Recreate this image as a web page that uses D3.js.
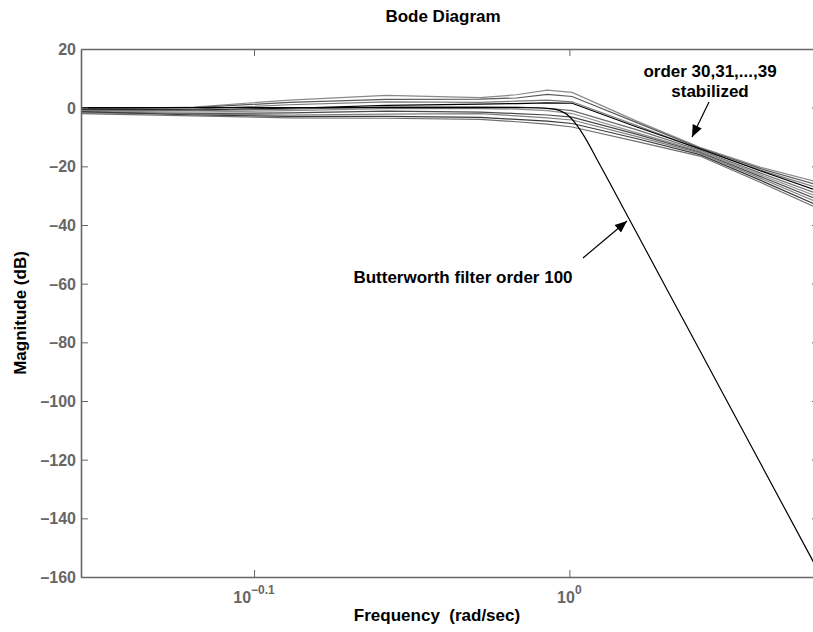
<!DOCTYPE html>
<html>
<head>
<meta charset="utf-8">
<script src="https://cdn.jsdelivr.net/npm/d3@7"></script>
<style>
  html, body { margin: 0; padding: 0; background: #fff; }
  svg { display: block; font-family: "Liberation Sans", Arial, sans-serif; }
  .tick-label { fill: #666; font-weight: bold; font-size: 16px; }
  .lbl { fill: #000; font-weight: bold; font-size: 17px; }
</style>
</head>
<body>
<div id="chart"></div>
<script>
// --- Data ---
const freqs = [0.7, 0.76, 0.815, 0.875, 0.937, 0.962, 0.984, 1.002, 1.05, 1.1, 1.15, 1.2];

const mag30 = [-0.5, 0.2, 2.6, 4.2, 3.4, 4.4, 6.0, 5.2, -4.5, -13.5, -20.3, -25.5];
const mag31 = [-0.3, 0.0, 1.8, 2.8, 2.9, 3.3, 4.5, 3.8, -5.0, -13.8, -20.8, -26.5];
const mag32 = [-1.0, -0.5, 1.0, 2.0, 1.8, 2.2, 2.6, 2.0, -6.0, -14.2, -21.3, -27.5];
const mag33 = [-0.6, -0.8, -0.2, 0.8, 1.2, 1.4, 1.6, 1.5, -6.5, -14.0, -21.6, -28.5];
const mag34 = [-0.8, -1.0, -0.5, 0.3, 0.3, 0.2, -0.2, -1.0, -7.5, -14.5, -22.3, -29.5];
const mag35 = [-1.2, -1.5, -1.0, -0.3, -0.3, -0.5, -1.0, -2.0, -8.5, -14.8, -22.9, -30.5];
const mag36 = [-1.5, -2.0, -1.8, -1.2, -1.5, -2.0, -2.5, -3.2, -9.0, -15.2, -23.5, -31.5];
const mag37 = [-1.8, -2.2, -2.5, -2.2, -2.0, -2.8, -3.5, -4.2, -9.8, -15.5, -24.1, -32.5];
const mag38 = [-1.3, -2.5, -3.0, -3.0, -3.3, -4.0, -4.6, -5.4, -10.5, -16.0, -24.8, -33.5];
const mag39 = [-2.0, -2.8, -3.5, -3.6, -4.0, -4.8, -5.6, -6.6, -11.5, -16.5, -25.5, -34.5];

const orderSeries = [mag30, mag31, mag32, mag33, mag34, mag35, mag36, mag37, mag38, mag39];
const orderColors = ['#8a8a8a', '#5a5a5a', '#7a7a7a', '#000000', '#6a6a6a',
                     '#909090', '#4a4a4a', '#808080', '#3a3a3a', '#707070'];

const bwFreq = [0.7, 0.9, 0.96, 0.975, 0.985, 0.993, 1.0, 1.006, 1.013, 1.02, 1.03, 1.05, 1.1, 1.15, 1.2];
const bwMag  = [0, 0, -0.01, -0.03, -0.3, -1.0, -3.0, -6.3, -11.4, -17.3, -25.7, -42.4, -82.8, -121.4, -158.4];

const yTicks = [20, 0, -20, -40, -60, -80, -100, -120, -140, -160];
const xTickValues = [0.7943, 1];
const xTickExps = ['\u22120.1', '0'];

// --- Layout ---
const W = 813, H = 632;
const plot = { left: 81, top: 49, right: 819, bottom: 577 };

const svg = d3.select('#chart').append('svg')
  .attr('width', W).attr('height', H);

const x = d3.scaleLog().domain([0.7, 1.2]).range([plot.left, plot.right]);
const y = d3.scaleLinear().domain([-160, 20]).range([plot.bottom, plot.top]);

const defs = svg.append('defs');
defs.append('clipPath').attr('id', 'clip')
  .append('rect')
  .attr('x', plot.left).attr('y', plot.top)
  .attr('width', plot.right - plot.left).attr('height', plot.bottom - plot.top);

// arrowhead marker
defs.append('marker')
  .attr('id', 'arrow')
  .attr('viewBox', '0 0 12 10')
  .attr('refX', 12).attr('refY', 5)
  .attr('markerWidth', 13).attr('markerHeight', 10)
  .attr('markerUnits', 'userSpaceOnUse')
  .attr('orient', 'auto')
  .append('path').attr('d', 'M0,0 L12,5 L0,10 z').attr('fill', '#000');

// --- Curves ---
const line = d3.line()
  .x(d => x(d[0]))
  .y(d => y(d[1]));

const curves = svg.append('g').attr('clip-path', 'url(#clip)');

orderSeries.forEach((s, i) => {
  curves.append('path')
    .attr('d', line(freqs.map((f, j) => [f, s[j]])))
    .attr('fill', 'none')
    .attr('stroke', orderColors[i])
    .attr('stroke-width', 1.2);
});

curves.append('path')
  .attr('d', line.curve(d3.curveMonotoneX)(bwFreq.map((f, j) => [f, bwMag[j]])))
  .attr('fill', 'none')
  .attr('stroke', '#000')
  .attr('stroke-width', 1.2);

// --- Axes (box with inward ticks) ---
const axisColor = '#666';
const tickLen = 7;

const axes = svg.append('g');

axes.append('g')
  .attr('transform', `translate(0,${plot.bottom})`)
  .call(d3.axisBottom(x).tickValues(xTickValues).tickSizeInner(-tickLen).tickSizeOuter(0).tickFormat(''));
axes.append('g')
  .attr('transform', `translate(0,${plot.top})`)
  .call(d3.axisTop(x).tickValues(xTickValues).tickSizeInner(-tickLen).tickSizeOuter(0).tickFormat(''));
axes.append('g')
  .attr('transform', `translate(${plot.left},0)`)
  .call(d3.axisLeft(y).tickValues(yTicks).tickSizeInner(-tickLen).tickSizeOuter(0).tickFormat(''));
axes.append('g')
  .attr('transform', `translate(${plot.right},0)`)
  .call(d3.axisRight(y).tickValues(yTicks).tickSizeInner(-tickLen).tickSizeOuter(0).tickFormat(''));

axes.selectAll('.domain').attr('stroke', axisColor).attr('stroke-width', 1.6);
axes.selectAll('.tick line').attr('stroke', axisColor).attr('stroke-width', 1);

// y tick labels
svg.append('g').selectAll('text')
  .data(yTicks)
  .join('text')
  .attr('class', 'tick-label')
  .attr('x', plot.left - 5)
  .attr('y', d => y(d) + 6)
  .attr('text-anchor', 'end')
  .text(d => d < 0 ? '\u2013' + Math.abs(d) : d);

// x tick labels: 10^exp
const xl = svg.append('g').selectAll('text')
  .data(xTickValues)
  .join('text')
  .attr('class', 'tick-label')
  .attr('x', d => x(d))
  .attr('y', 603)
  .attr('text-anchor', 'middle');
xl.append('tspan').text('10');
xl.append('tspan')
  .attr('dy', -9)
  .attr('font-size', 12)
  .text((d, i) => xTickExps[i]);

// --- Titles ---
svg.append('text').attr('class', 'lbl')
  .attr('x', 443).attr('y', 22)
  .attr('text-anchor', 'middle')
  .text('Bode Diagram');

svg.append('text').attr('class', 'lbl')
  .attr('x', 437).attr('y', 621)
  .attr('text-anchor', 'middle')
  .attr('font-size', 18)
  .text('Frequency\u00a0\u00a0(rad/sec)');

svg.append('text').attr('class', 'lbl')
  .attr('transform', `translate(26,${(plot.top + plot.bottom) / 2}) rotate(-90)`)
  .attr('text-anchor', 'middle')
  .text('Magnitude (dB)');

// --- Annotations ---
svg.append('text').attr('class', 'lbl')
  .attr('x', 710).attr('y', 77)
  .attr('text-anchor', 'middle')
  .text('order 30,31,...,39');
svg.append('text').attr('class', 'lbl')
  .attr('x', 710).attr('y', 97)
  .attr('text-anchor', 'middle')
  .text('stabilized');

svg.append('line')
  .attr('x1', 709).attr('y1', 102).attr('x2', 692).attr('y2', 137)
  .attr('stroke', '#000').attr('stroke-width', 1.2)
  .attr('marker-end', 'url(#arrow)');

svg.append('text').attr('class', 'lbl')
  .attr('x', 463).attr('y', 283)
  .attr('text-anchor', 'middle')
  .text('Butterworth filter order 100');

svg.append('line')
  .attr('x1', 583).attr('y1', 258).attr('x2', 627).attr('y2', 221)
  .attr('stroke', '#000').attr('stroke-width', 1.2)
  .attr('marker-end', 'url(#arrow)');
</script>
</body>
</html>
